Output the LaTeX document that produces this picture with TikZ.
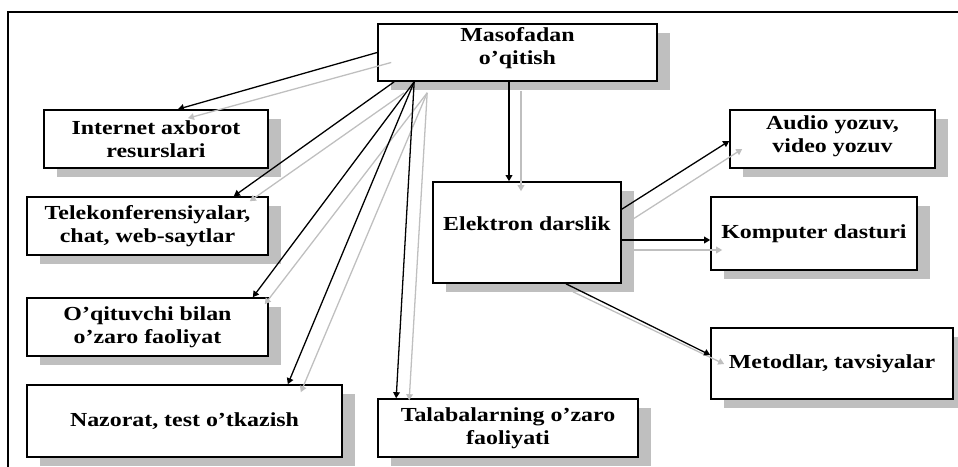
\documentclass[tikz,border=0pt]{standalone}
\usepackage{fontspec}
\setmainfont{Liberation Serif}[FakeStretch=1.2]
\usetikzlibrary{arrows.meta,shadows}

\tikzset{
  box/.style={draw,line width=1.4pt,fill=white,align=center,inner sep=0pt,
    font=\fontsize{17}{19.6}\selectfont\bfseries,
    drop shadow={shadow xshift=3.9mm,shadow yshift=-2.7mm,fill=gray!50,opacity=1}},
  arr/.style={line width=1.1pt,-{Triangle[length=1.8mm,width=2mm]}},
  sarr/.style={arr,gray!50}
}

\begin{document}
\begin{tikzpicture}[x=0.3mm,y=-0.3mm]
  \useasboundingbox (0,0) rectangle (958,467);
  \draw[line width=1.4pt] (8,467) -- (8,12) -- (958,12);

  \node[box,minimum width=83.7mm,minimum height=17.1mm,text depth=11pt] (mas) at (517.5,52.5) {Masofadan\\o’qitish};
  \node[box,minimum width=67.2mm,minimum height=17.4mm] (inet) at (156,139) {Internet axborot\\resurslari};
  \node[box,minimum width=72.3mm,minimum height=17.4mm] (tele) at (147.5,226) {Telekonferensiyalar,\\chat, web-saytlar};
  \node[box,minimum width=72.3mm,minimum height=17.4mm] (oqit) at (147.5,327) {O’qituvchi bilan\\o’zaro faoliyat};
  \node[box,minimum width=94.5mm,minimum height=21.6mm] (naz) at (184.5,421) {Nazorat, test o’tkazish};
  \node[box,minimum width=78mm,minimum height=17.4mm] (tal) at (508,428) {Talabalarning o’zaro\\faoliyati};
  \node[box,minimum width=56.4mm,minimum height=30.3mm,text depth=16pt] (elek) at (527,232.5) {Elektron darslik};
  \node[box,minimum width=61.5mm,minimum height=17.4mm,text depth=8.5pt] (audio) at (832.5,139) {Audio yozuv,\\video yozuv};
  \node[box,minimum width=61.8mm,minimum height=21.9mm] (komp) at (814,233.5) {Komputer dasturi};
  \node[box,minimum width=72.6mm,minimum height=21.3mm] (metod) at (832,363.5) {Metodlar, tavsiyalar};

  % fan-out points under the top box
  \coordinate (fan) at ([shift={(37,0)}]mas.south west);
  \coordinate (sfan) at ([shift={(50,11)}]mas.south west);

  % grey copies of the arrows
  \draw[sarr] ([shift={(14,10)}]mas.west) -- ([shift={(32,9)}]inet.north);
  \draw[sarr] ([shift={(27,11)}]mas.south west) -- ([shift={(-19,5)}]tele.north east);
  \draw[sarr] (sfan) -- ([shift={(-4,7)}]oqit.north east);
  \draw[sarr] (sfan) -- ([shift={(-42,8)}]naz.north east);
  \draw[sarr] (sfan) -- ([shift={(32,2)}]tal.north west);
  \draw[sarr] ([shift={(3.5,9)}]mas.south) -- ([shift={(-6,10)}]elek.north);
  \draw[sarr] ([shift={(11,38)}]elek.north east) -- ([shift={(13,10)}]audio.west);
  \draw[sarr] ([shift={(11,17.5)}]elek.east) -- ([shift={(12,16.5)}]komp.west);
  \draw[sarr] ([shift={(46,8)}]elek.south) -- ([shift={(14,0.5)}]metod.west);

  % black arrows
  \draw[arr] (mas.west) -- ([shift={(22,0)}]inet.north);
  \draw[arr] ([shift={(17,0)}]mas.south west) -- ([shift={(-35,0)}]tele.north east);
  \draw[arr] (fan) -- ([shift={(-16,0)}]oqit.north east);
  \draw[arr] (fan) -- ([shift={(-55,0)}]naz.north east);
  \draw[arr] (fan) -- ([shift={(19,0)}]tal.north west);
  \draw[arr] ([shift={(-8.5,0)}]mas.south) -- ([shift={(-18,0)}]elek.north);
  \draw[arr] ([shift={(0,28)}]elek.north east) -- ([shift={(0,2)}]audio.west);
  \draw[arr] ([shift={(0,7.5)}]elek.east) -- ([shift={(0,6.5)}]komp.west);
  \draw[arr] ([shift={(39,0)}]elek.south) -- ([shift={(0,-8.5)}]metod.west);
\end{tikzpicture}
\end{document}
